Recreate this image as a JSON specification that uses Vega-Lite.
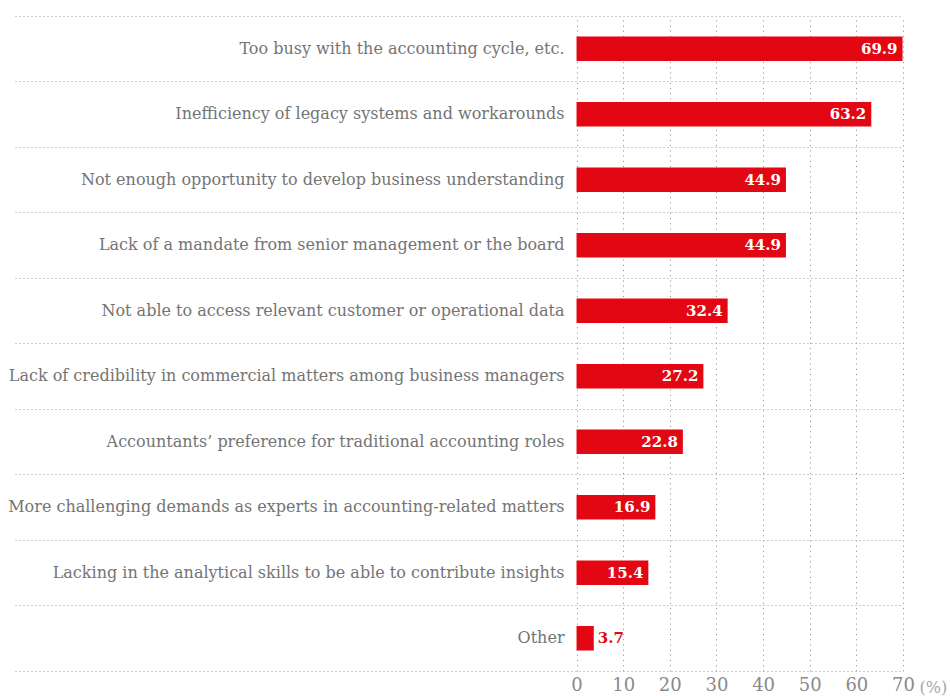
{
  "$schema": "https://vega.github.io/schema/vega-lite/v6.json",
  "width": 888,
  "height": 655,
  "autosize": "none",
  "padding": {"left": 15, "top": 16, "right": 47, "bottom": 25},
  "background": "white",
  "config": {"view": {"stroke": null}},
  "data": {
    "values": [
      {"reason": "Too busy with the accounting cycle, etc.", "pct": 69.9},
      {"reason": "Inefficiency of legacy systems and workarounds", "pct": 63.2},
      {"reason": "Not enough opportunity to develop business understanding", "pct": 44.9},
      {"reason": "Lack of a mandate from senior management or the board", "pct": 44.9},
      {"reason": "Not able to access relevant customer or operational data", "pct": 32.4},
      {"reason": "Lack of credibility in commercial matters among business managers", "pct": 27.2},
      {"reason": "Accountants’ preference for traditional accounting roles", "pct": 22.8},
      {"reason": "More challenging demands as experts in accounting-related matters", "pct": 16.9},
      {"reason": "Lacking in the analytical skills to be able to contribute insights", "pct": 15.4},
      {"reason": "Other", "pct": 3.7}
    ]
  },
  "encoding": {
    "y": {
      "field": "reason",
      "type": "nominal",
      "sort": null,
      "scale": {"paddingInner": 0.625, "paddingOuter": 0.3125},
      "axis": {
        "title": null,
        "labels": false,
        "ticks": false,
        "domain": false,
        "grid": true,
        "bandPosition": -0.8333,
        "gridDash": [1, 3],
        "gridColor": "#9a9a9a",
        "gridWidth": 1
      }
    }
  },
  "layer": [
    {
      "mark": {"type": "bar", "color": "#e30613"},
      "encoding": {
        "x": {
          "field": "pct",
          "type": "quantitative",
          "scale": {"domain": [-120.4, 70], "nice": false, "zero": false},
          "axis": {
            "values": [0, 10, 20, 30, 40, 50, 60, 70],
            "domain": true,
            "domainDash": [1, 3],
            "domainColor": "#9a9a9a",
            "domainWidth": 1,
            "ticks": false,
            "grid": true,
            "gridDash": [1.2, 4],
            "gridColor": "#9a9a9a",
            "labelFont": "DejaVu Serif",
            "labelFontSize": 18,
            "labelColor": "#8a8a8a",
            "labelPadding": 5,
            "labelFlush": false,
            "title": "(%)",
            "titleFont": "DejaVu Serif",
            "titleFontSize": 16,
            "titleFontWeight": "normal",
            "titleColor": "#a8a8a8",
            "titleAlign": "left",
            "titleBaseline": "middle",
            "titleX": 904,
            "titleY": 16
          }
        }
      }
    },
    {
      "mark": {"type": "text", "align": "right", "baseline": "middle", "dx": -12, "font": "DejaVu Serif", "fontSize": 16, "color": "#747474"},
      "encoding": {
        "x": {"datum": 0, "type": "quantitative"},
        "text": {"field": "reason"}
      }
    },
    {
      "transform": [{"filter": "datum.pct >= 10"}],
      "mark": {"type": "text", "align": "right", "baseline": "middle", "dx": -5, "font": "DejaVu Serif", "fontSize": 15, "fontWeight": "bold", "color": "white"},
      "encoding": {
        "x": {"field": "pct", "type": "quantitative"},
        "text": {"field": "pct", "format": ".1f"}
      }
    },
    {
      "transform": [{"filter": "datum.pct < 10"}],
      "mark": {"type": "text", "align": "left", "baseline": "middle", "dx": 4, "font": "DejaVu Serif", "fontSize": 15, "fontWeight": "bold", "color": "#e30613"},
      "encoding": {
        "x": {"field": "pct", "type": "quantitative"},
        "text": {"field": "pct", "format": ".1f"}
      }
    }
  ]
}
